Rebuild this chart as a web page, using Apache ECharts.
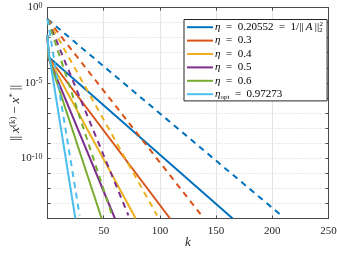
<!DOCTYPE html>
<html><head><meta charset="utf-8">
<script src="https://cdn.jsdelivr.net/npm/echarts@6/dist/echarts.min.js"></script>
<style>html,body{margin:0;padding:0;background:#fff}#c{width:337px;height:253px}</style>
</head><body><div id="c"></div>
<script>
// ---- data ----
const seriesNames = ['eta1', 'eta2', 'eta3', 'eta4', 'eta5', 'etaopt'];
const legendLabels = [
  '{i|η}\u2002=\u20020.20552\u2002=\u20021/||\u2009{i|A}\u2009||{subs|2}{sup|2}',
  '{i|η}\u2002=\u20020.3',
  '{i|η}\u2002=\u20020.4',
  '{i|η}\u2002=\u20020.5',
  '{i|η}\u2002=\u20020.6',
  '{i|η}{sub|opt}\u2002=\u20020.97273'
];
const xTickValues = [0, 50, 100, 150, 200, 250];
const yLabelExponents = [0, -5, -10];
// error curves (solid): iteration k and error
const solidK = [
  [0, 1, 164.7],
  [0, 1, 109],
  [0, 1, 78.5],
  [0, 1, 60],
  [0, 1, 48.2],
  [0, 1, 24.8]
];
const solidErr = [
  [1.5e-2, 5.2e-4, 1e-14],
  [1.5e-2, 4.8e-4, 1e-14],
  [1.5e-2, 4.5e-4, 1e-14],
  [1.5e-2, 4.0e-4, 1e-14],
  [1.5e-2, 4.8e-4, 1e-14],
  [1.5e-2, 1.2e-3, 1e-14]
];
// bound curves (dashed)
const boundK = [
  [0, 208],
  [0, 137],
  [0, 97.5],
  [0, 72],
  [0, 57.5],
  [0, 28.6]
];
const boundErr = [
  [0.17, 1.6e-14],
  [0.17, 1.6e-14],
  [0.17, 1.6e-14],
  [0.17, 1.6e-14],
  [0.17, 1.6e-14],
  [0.17, 1.6e-14]
];
// ---- styling ----
const colors = ['#0072BD', '#D95319', '#EDB120', '#7E2F8E', '#77AC30', '#4DBEEE'];
const serif = 'Liberation Serif';
const axisColor = '#4a4a4a';

const series = [];
seriesNames.forEach((name, i) => {
  series.push({
    name: name, type: 'line', symbol: 'none', showSymbol: false,
    data: solidK[i].map((k, j) => [k, solidErr[i][j]]),
    lineStyle: { color: colors[i], width: 2 }, itemStyle: { color: colors[i] },
    z: 3
  });
  series.push({
    name: name + '_bound', type: 'line', symbol: 'none', showSymbol: false,
    data: boundK[i].map((k, j) => [k, boundErr[i][j]]),
    lineStyle: { color: colors[i], width: 2, type: [6, 5] }, itemStyle: { color: colors[i] },
    z: 3
  });
});
// major horizontal grid lines
series[0].markLine = {
  silent: true, symbol: 'none', label: { show: false },
  lineStyle: { color: '#dcdcdc', type: 'solid', width: 1 },
  data: yLabelExponents.slice(1).map(e => ({ yAxis: Math.pow(10, e) })),
  animation: false
};

const chart = echarts.init(document.getElementById('c'), null, { renderer: 'canvas' });
chart.setOption({
  animation: false,
  backgroundColor: '#fff',
  grid: { left: 47.5, right: 8.5, top: 7.5, bottom: 34.5, show: false, containLabel: false, outerBoundsMode: 'none' },
  legend: {
    data: seriesNames,
    orient: 'vertical',
    left: 184, top: 19.5,
    padding: [1, 4, 0, 3],
    itemGap: 0,
    itemWidth: 26, itemHeight: 2,
    icon: 'rect',
    backgroundColor: '#fff',
    borderColor: '#262626', borderWidth: 1,
    formatter: name => legendLabels[seriesNames.indexOf(name)],
    textStyle: {
      fontFamily: serif, fontSize: 11, color: '#000', lineHeight: 13.4,
      padding: [0, 0, 0, -3],
      rich: {
        i: { fontFamily: serif, fontStyle: 'italic', fontSize: 11, lineHeight: 13.4 },
        sup: { fontFamily: serif, fontSize: 7, lineHeight: 8, verticalAlign: 'top' },
        sub: { fontFamily: serif, fontSize: 7, lineHeight: 8, verticalAlign: 'bottom' },
        subs: { fontFamily: serif, fontSize: 7, lineHeight: 8, verticalAlign: 'bottom', width: 0.5 }
      }
    }
  },
  xAxis: [{
    type: 'value', min: 0, max: 250, interval: 50,
    name: 'k', nameLocation: 'middle', nameGap: 18, nameMoveOverlap: false,
    nameTextStyle: { fontFamily: serif, fontStyle: 'italic', fontSize: 13, color: '#262626', verticalAlign: 'top' },
    axisLine: { show: true, onZero: false, lineStyle: { color: axisColor, width: 1 } },
    axisTick: { show: true, inside: true, length: 3, lineStyle: { color: axisColor } },
    axisLabel: {
      fontFamily: serif, fontSize: 11, color: '#262626', margin: 7,
      formatter: v => (v === 0 ? '' : String(v))
    },
    splitLine: { show: true, lineStyle: { color: '#e3e3e3', width: 1 } }
  }, {
    type: 'value', min: 0, max: 250, interval: 50, position: 'top',
    axisLine: { show: true, onZero: false, lineStyle: { color: axisColor, width: 1 } },
    axisTick: { show: true, inside: true, length: 3, lineStyle: { color: axisColor } },
    axisLabel: { show: false }, splitLine: { show: false }
  }],
  yAxis: [{
    type: 'log', logBase: 10, min: 1e-14, max: 1, interval: 1,
    name: '||\u2009{i|x}{sup|(k)}\u2009−\u2009{i|x}{sup|*}\u2009||', nameLocation: 'middle', nameGap: 25, nameRotate: 90,
    nameMoveOverlap: false,
    nameTextStyle: {
      fontFamily: serif, fontSize: 13.5, color: '#262626',
      rich: {
        i: { fontFamily: serif, fontStyle: 'italic', fontSize: 13.5 },
        sup: { fontFamily: serif, fontSize: 9, lineHeight: 10, verticalAlign: 'top' }
      }
    },
    axisLine: { show: true, onZero: false, lineStyle: { color: axisColor, width: 1 } },
    axisTick: { show: true, inside: true, length: 3, lineStyle: { color: axisColor } },
    axisLabel: {
      margin: 5,
      formatter: v => {
        const e = Math.round(Math.log10(v));
        return yLabelExponents.includes(e) ? '{b|10}{s|' + e + '}' : '';
      },
      rich: {
        b: { fontFamily: serif, fontSize: 11, color: '#262626', lineHeight: 11, verticalAlign: 'bottom' },
        s: { fontFamily: serif, fontSize: 8, color: '#262626', lineHeight: 8, padding: [0, 0, 7, 0], verticalAlign: 'top' }
      }
    },
    splitLine: { show: true, lineStyle: { color: '#d2d2d2', width: 1, type: [1, 2] } }
  }, {
    type: 'log', logBase: 10, min: 1e-14, max: 1, interval: 1, position: 'right',
    axisLine: { show: true, onZero: false, lineStyle: { color: axisColor, width: 1 } },
    axisTick: { show: true, inside: true, length: 3, lineStyle: { color: axisColor } },
    axisLabel: { show: false }, splitLine: { show: false }
  }],
  series: series
});
</script>
</body></html>
